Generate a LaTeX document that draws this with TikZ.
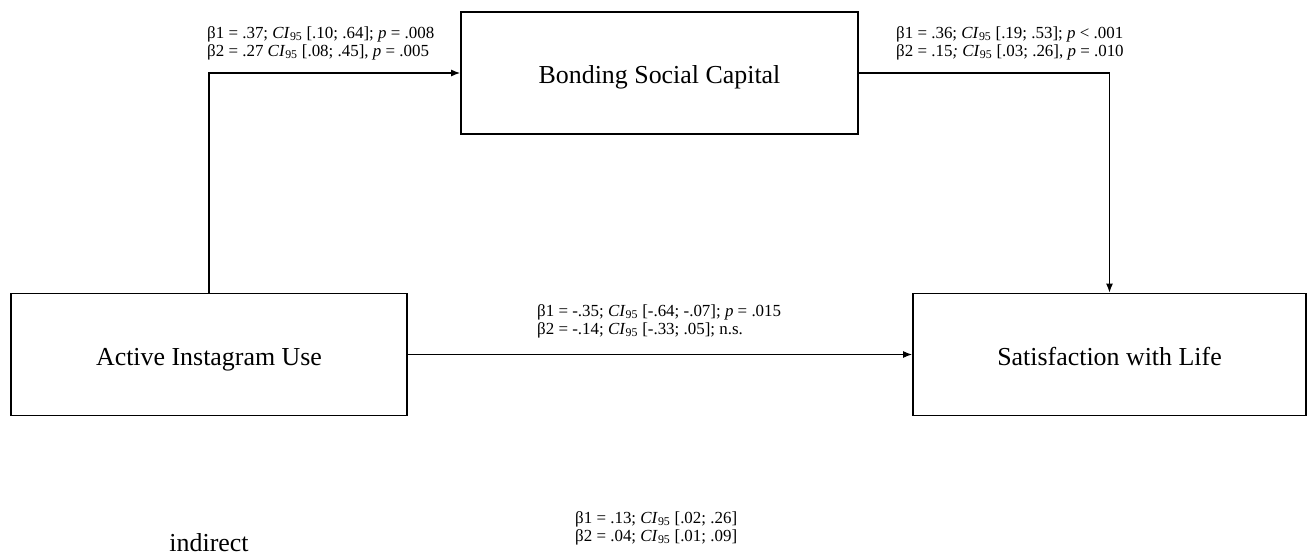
\documentclass[tikz,border=0pt]{standalone}
\usepackage{fontspec}
\setmainfont{Liberation Serif}
\usetikzlibrary{arrows.meta}
\newcommand{\civ}{\textit{CI}\textsubscript{95}}
\begin{document}
\begin{tikzpicture}[x=1bp,y=-1bp,
  box/.style={draw=black, line width=1.8bp, inner sep=0pt, minimum height=122bp,
    text height=24bp, text depth=2bp, font=\fontsize{26}{30}\selectfont},
  conn/.style={line width=1.2bp, -{Latex[length=9bp,width=7bp]}},
  lab/.style={anchor=north west, inner sep=0pt, align=left, font=\fontsize{17}{18}\selectfont}]
\useasboundingbox (0,0) rectangle (1308,556);
\node[box, minimum width=396bp] (act) at (209,354.5) {Active Instagram Use};
\node[box, minimum width=397bp] (bond) at (659.5,73) {Bonding Social Capital};
\node[box, minimum width=393bp] (sat) at (1109.5,354.5) {Satisfaction with Life};
\draw[conn] (act.north) |- (bond.west);
\draw[conn] (bond.east) -| (sat.north);
\draw[conn] (act.east) -- (sat.west);
\node[lab] (l1) at (207,26) {β1 = .37; \civ{} [.10; .64]; \textit{p} = .008\\β2 = .27 \civ{} [.08; .45], \textit{p} = .005};
\node[lab] (l2) at (896,26) {β1 = .36; \civ{} [.19; .53]; \textit{p} < .001\\β2 = .15\textit{;} \civ{} [.03; .26], \textit{p} = .010};
\node[lab] (l3) at (537,304) {β1 = -.35; \civ{} [-.64; -.07]; \textit{p} = .015\\β2 = -.14; \civ{} [-.33; .05]; n.s.};
\node[lab] (l4) at (575,511) {β1 = .13; \civ{} [.02; .26]\\β2 = .04; \civ{} [.01; .09]};
\node[anchor=base, inner sep=0pt, font=\fontsize{26}{30}\selectfont] (ind) at (209,551) {indirect};
\end{tikzpicture}
\end{document}
